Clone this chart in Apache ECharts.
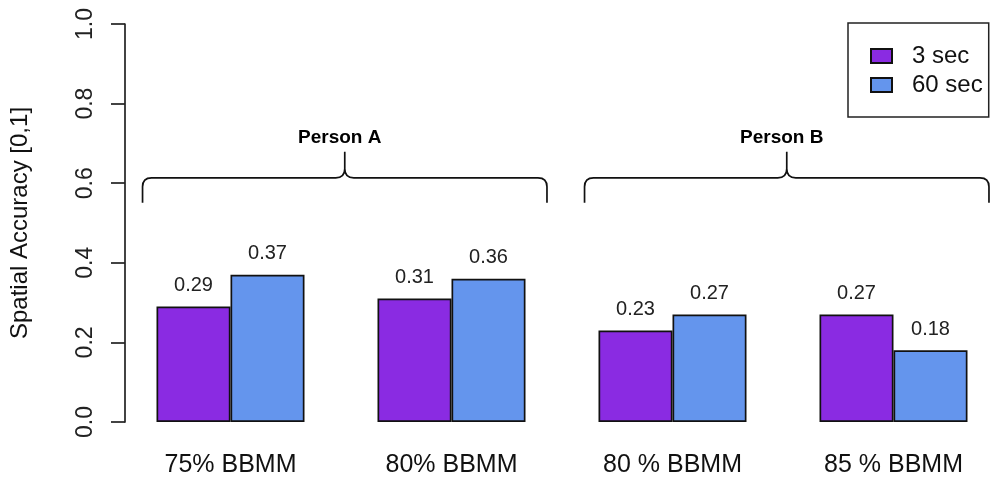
<!DOCTYPE html>
<html>
<head>
<meta charset="utf-8">
<script src="https://cdn.jsdelivr.net/npm/echarts@6/dist/echarts.min.js"></script>
<style>
html,body{margin:0;padding:0;background:#fff;}
#chart{width:996px;height:483px;}
</style>
</head>
<body>
<div id="chart"></div>
<script>
// ---- data ----
const categories = ['75% BBMM', '80% BBMM', '80 % BBMM', '85 % BBMM'];
const seriesNames = ['3 sec', '60 sec'];
const sec3Values = [0.29, 0.31, 0.23, 0.27];
const sec60Values = [0.37, 0.36, 0.27, 0.18];
const yMin = 0, yMax = 1, yStep = 0.2;
const groupLabels = ['Person A', 'Person B'];
const groupSpans = [[0, 1], [2, 3]]; // category index ranges covered by each brace

const FONT = '"Liberation Sans", Arial, Helvetica, sans-serif';
const chart = echarts.init(document.getElementById('chart'), null, {renderer: 'canvas'});

function renderBrace(params, api) {
  const i0 = api.value(0), i1 = api.value(1);
  const bw = api.size([1, 0])[0];
  const c0 = api.coord([i0, 0.6135]);
  const c1 = api.coord([i1, 0.6135]);
  const yL = c0[1];
  const yE = api.coord([i0, 0.551])[1];
  const yT = api.coord([i0, 0.679])[1];
  const yTxt = api.coord([i0, 0.713])[1];
  const x0 = c0[0] - 0.398 * bw;
  const x1 = c1[0] + 0.432 * bw;
  const xm = (x0 + x1) / 2;
  const r = 9;
  const p = [
    'M', x0, yE, 'L', x0, yL + r, 'Q', x0, yL, x0 + r, yL,
    'L', xm - r, yL, 'Q', xm, yL, xm, yL - r, 'L', xm, yT,
    'M', xm, yL - r, 'Q', xm, yL, xm + r, yL,
    'L', x1 - r, yL, 'Q', x1, yL, x1, yL + r, 'L', x1, yE
  ].join(' ');
  return {
    type: 'group',
    children: [
      {type: 'path', shape: {pathData: p}, style: {stroke: '#111', lineWidth: 1.7, fill: null}},
      {type: 'text', x: xm - 5, y: yTxt, style: {
        text: groupLabels[params.dataIndex], font: 'bold 19px ' + FONT,
        fill: '#000', align: 'center', verticalAlign: 'middle'}}
    ]
  };
}

const barLabel = {
  show: true, position: 'top', distance: 11,
  fontSize: 20, fontFamily: FONT, color: '#222',
  formatter: p => p.value.toFixed(2)
};

chart.setOption({
  animation: false,
  backgroundColor: '#fff',
  textStyle: {fontFamily: FONT},
  grid: {left: 120, right: -8, top: 24, bottom: 61, containLabel: false, outerBoundsMode: 'none'},
  legend: {
    data: seriesNames,
    orient: 'vertical',
    left: 848, top: 23,
    padding: [21, 6, 20, 22],
    itemWidth: 21, itemHeight: 14, itemGap: 5,
    icon: 'rect',
    borderColor: '#222', borderWidth: 1.5, borderRadius: 0,
    textStyle: {fontSize: 24, lineHeight: 24, color: '#111', fontFamily: FONT, padding: [0, 0, 0, 15]}
  },
  xAxis: {
    type: 'category',
    data: categories,
    axisLine: {show: false},
    axisTick: {show: false},
    axisLabel: {fontSize: 25, color: '#111', margin: 31, fontFamily: FONT, interval: 0}
  },
  yAxis: {
    type: 'value',
    min: yMin, max: yMax, interval: yStep,
    offset: -5,
    name: 'Spatial Accuracy [0,1]',
    nameLocation: 'middle',
    nameRotate: 90,
    nameGap: 93,
    nameTextStyle: {fontSize: 24, color: '#111', fontFamily: FONT},
    axisLine: {show: true, lineStyle: {color: '#222', width: 1.7}},
    axisTick: {show: true, length: 14, lineStyle: {color: '#222', width: 1.7}},
    splitLine: {show: false},
    axisLabel: {rotate: 90, fontSize: 23, color: '#222', margin: 28, fontFamily: FONT,
      formatter: v => v.toFixed(1)}
  },
  series: [
    {
      name: seriesNames[0], type: 'bar', data: sec3Values,
      barWidth: 74, barGap: '0%',
      itemStyle: {color: '#8A2BE2', borderColor: '#111', borderWidth: 1.7},
      label: barLabel
    },
    {
      name: seriesNames[1], type: 'bar', data: sec60Values,
      barWidth: 74, barGap: '0%',
      itemStyle: {color: '#6495ED', borderColor: '#111', borderWidth: 1.7},
      label: barLabel
    },
    {
      type: 'custom',
      renderItem: renderBrace,
      data: groupSpans,
      encode: {x: [0, 1]},
      clip: false,
      silent: true,
      z: 5
    }
  ]
});
</script>
</body>
</html>
